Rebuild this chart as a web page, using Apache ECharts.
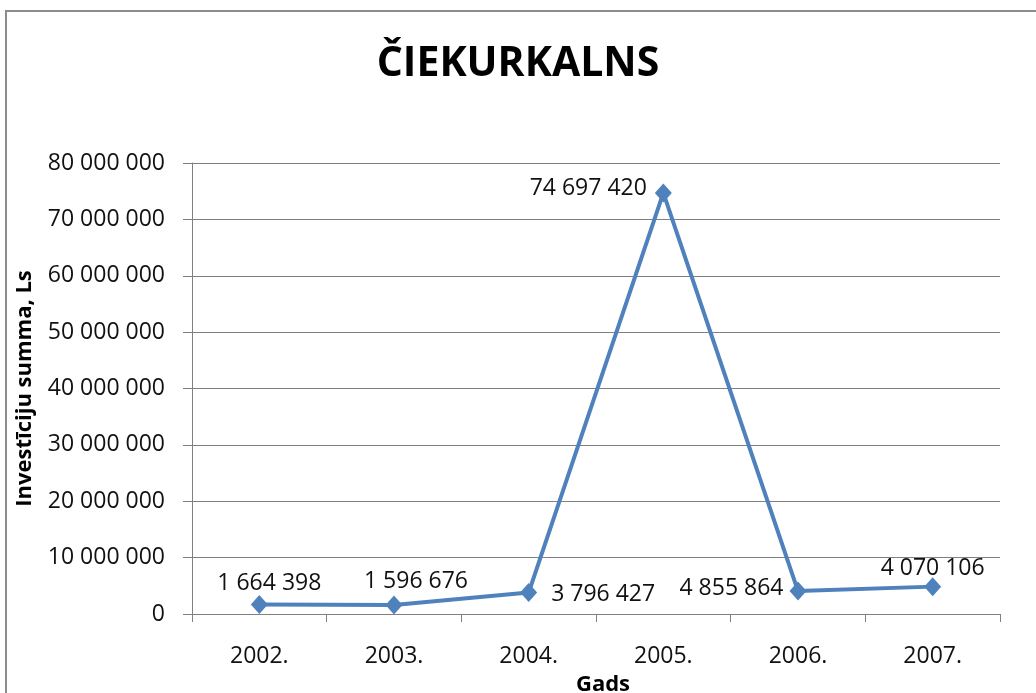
<!DOCTYPE html>
<html>
<head>
<meta charset="utf-8">
<script src="https://cdn.jsdelivr.net/npm/echarts@6/dist/echarts.min.js"></script>
<style>
  html, body { margin: 0; padding: 0; background: #fff; }
  #chart { width: 1036px; height: 693px; }
</style>
</head>
<body>
<div id="chart"></div>
<script>
const years = ['2002.', '2003.', '2004.', '2005.', '2006.', '2007.']
const investments = [1664398, 1596676, 3796427, 74697420, 4070106, 4855864]
// label texts as printed on the picture (2006/2007 labels are swapped there)
const pointLabels = ['1 664 398', '1 596 676', '3 796 427', '74 697 420', '4 855 864', '4 070 106']

const labelPlacement = [
  { position: 'top', distance: 0, offset: [10, 0] },
  { position: 'top', distance: 3, offset: [22, 0] },
  { position: 'right', distance: 14, offset: [0, 2] },
  { position: 'left', distance: 8, offset: [0, -4] },
  { position: 'left', distance: 6, offset: [0, -3] },
  { position: 'top', distance: -3, offset: [0, 0] }
]

const spaced = v => String(v).replace(/\B(?=(\d{3})+(?!\d))/g, ' ')

const chart = echarts.init(document.getElementById('chart'))
const font = '"Open Sans", "DejaVu Sans", sans-serif'

const option = {
  backgroundColor: '#fff',
  animation: false,
  textStyle: { fontFamily: font },
  graphic: [
    {
      type: 'rect',
      shape: { x: 6, y: 11, width: 1200, height: 900 },
      style: { fill: 'none', stroke: '#8c8c8c', lineWidth: 2 }
    }
  ],
  title: {
    text: 'ČIEKURKALNS',
    left: 'center',
    top: 39,
    textStyle: { fontSize: 41, fontWeight: 'bold', color: '#000', fontFamily: font }
  },
  grid: {
    left: 192, right: 36, top: 163, bottom: 79,
    containLabel: false,
    outerBoundsMode: 'none'
  },
  xAxis: {
    type: 'category',
    data: years,
    boundaryGap: true,
    name: 'Gads',
    nameLocation: 'middle',
    nameGap: 60,
    nameTextStyle: { fontSize: 22, fontWeight: 'bold', color: '#000', padding: [0, 0, 0, 14] },
    axisLine: { lineStyle: { color: '#808080', width: 1 } },
    axisTick: { show: true, length: 8, interval: 0, lineStyle: { color: '#808080' } },
    axisLabel: { fontSize: 23, color: '#111', margin: 31, interval: 0 },
    splitLine: { show: false }
  },
  yAxis: {
    type: 'value',
    min: 0,
    max: 80000000,
    interval: 10000000,
    name: 'Investīciju summa, Ls',
    nameLocation: 'middle',
    nameGap: 156,
    nameRotate: 90,
    nameTextStyle: { fontSize: 22, fontWeight: 'bold', color: '#000' },
    axisLine: { show: true, lineStyle: { color: '#808080', width: 1 } },
    axisTick: { show: true, length: 9, lineStyle: { color: '#808080' } },
    axisLabel: { fontSize: 23, color: '#111', margin: 27, formatter: spaced },
    splitLine: { show: true, lineStyle: { color: '#808080', width: 1 } }
  },
  series: [
    {
      name: 'Investīciju summa',
      type: 'line',
      data: investments.map((v, i) => ({
        value: v,
        label: Object.assign({ formatter: pointLabels[i] }, labelPlacement[i])
      })),
      symbol: 'diamond',
      symbolSize: [17, 19],
      lineStyle: { color: '#4F81BD', width: 4 },
      itemStyle: { color: '#4F81BD' },
      label: { show: true, fontSize: 23, color: '#111' }
    }
  ]
}

chart.setOption(option)
</script>
</body>
</html>
